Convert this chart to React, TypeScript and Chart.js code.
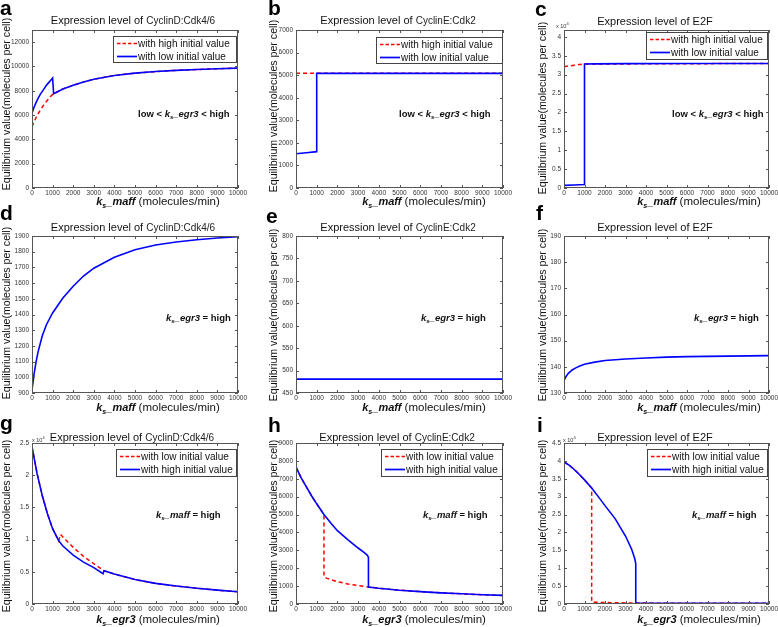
import React, { useEffect, useRef } from 'react';
import { Chart, registerables } from 'chart.js';
Chart.register(...registerables);

const W = 778;
const H = 627;
const FONT = '"Liberation Sans", Arial, sans-serif';
const BLUE = '#0000ff';
const RED = '#ff0000';

const X_TICKS = [0, 1000, 2000, 3000, 4000, 5000, 6000, 7000, 8000, 9000, 10000];

// ---- panel a ----
const A_Y_TICKS = [0, 2000, 4000, 6000, 8000, 10000, 12000];
const A_HIGH_X = [0, 100, 200, 300, 400, 500, 600, 700, 800, 900, 1000, 1500, 2000, 2500, 3000, 4000, 5000, 6000, 7000, 8000, 9000, 10000];
const A_HIGH_Y = [5050, 5450, 5800, 6120, 6400, 6660, 6900, 7120, 7330, 7520, 7700, 8150, 8450, 8720, 8950, 9250, 9450, 9580, 9680, 9750, 9810, 9860];
const A_LOW_X = [0, 100, 200, 300, 400, 500, 600, 700, 800, 900, 1000, 1050, 1500, 2000, 2500, 3000, 4000, 5000, 6000, 7000, 8000, 9000, 10000];
const A_LOW_Y = [6150, 6650, 7050, 7400, 7700, 7950, 8200, 8450, 8650, 8850, 9050, 7750, 8150, 8450, 8720, 8950, 9250, 9450, 9580, 9680, 9750, 9810, 9860];

// ---- panel b ----
const B_Y_TICKS = [0, 1000, 2000, 3000, 4000, 5000, 6000, 7000];
const B_HIGH_X = [0, 1000, 10000];
const B_HIGH_Y = [5080, 5080, 5080];
const B_LOW_X = [0, 500, 1000, 1000, 10000];
const B_LOW_Y = [1520, 1565, 1610, 5080, 5080];

// ---- panel c ----
const C_Y_TICKS = [0, 5000, 10000, 15000, 20000, 25000, 30000, 35000, 40000];
const C_HIGH_X = [0, 500, 1000, 10000];
const C_HIGH_Y = [32100, 32500, 32800, 32950];
const C_LOW_X = [0, 500, 1000, 1000, 1500, 3000, 6000, 10000];
const C_LOW_Y = [700, 800, 900, 32800, 32850, 32900, 32950, 32950];

// ---- panel d ----
const D_Y_TICKS = [900, 1000, 1100, 1200, 1300, 1400, 1500, 1600, 1700, 1800, 1900];
const D_X = [0, 100, 200, 300, 500, 700, 1000, 1500, 2000, 2500, 3000, 4000, 5000, 6000, 7000, 8000, 9000, 10000];
const D_Y = [920, 1020, 1100, 1165, 1265, 1335, 1410, 1505, 1580, 1645, 1695, 1765, 1812, 1843, 1862, 1876, 1887, 1896];

// ---- panel e ----
const E_Y_TICKS = [450, 500, 550, 600, 650, 700, 750, 800];
const E_X = [0, 2000, 10000];
const E_Y = [481, 481, 481];

// ---- panel f ----
const F_Y_TICKS = [130, 140, 150, 160, 170, 180, 190];
const F_X = [0, 100, 200, 400, 600, 800, 1000, 1500, 2000, 3000, 4000, 5000, 6000, 7000, 8000, 9000, 10000];
const F_Y = [134.8, 136.3, 137.4, 138.8, 139.7, 140.4, 141.0, 141.8, 142.4, 143.0, 143.4, 143.7, 143.9, 144.0, 144.1, 144.2, 144.3];

// ---- panel g ----
const G_Y_TICKS = [0, 5000, 10000, 15000, 20000, 25000];
const G_HIGH_X = [0, 250, 500, 750, 1000, 1300, 1500, 2000, 2500, 3000, 3450, 3500, 4000, 5000, 6000, 7000, 8000, 9000, 10000];
const G_HIGH_Y = [24400, 20200, 16800, 14000, 11700, 9800, 9000, 7600, 6500, 5650, 4700, 5150, 4650, 3800, 3200, 2800, 2450, 2150, 1900];
const G_LOW_X = [0, 250, 500, 750, 1000, 1300, 1380, 1500, 2000, 2500, 3000, 3500, 4000, 5000, 6000, 7000, 8000, 9000, 10000];
const G_LOW_Y = [24400, 20200, 16800, 14000, 11700, 9800, 10800, 10400, 8800, 7400, 6250, 5150, 4650, 3800, 3200, 2800, 2450, 2150, 1900];

// ---- panel h ----
const H_Y_TICKS = [0, 1000, 2000, 3000, 4000, 5000, 6000, 7000, 8000, 9000];
const H_HIGH_X = [0, 250, 500, 750, 1000, 1350, 1700, 2000, 2500, 3000, 3300, 3450, 3500, 3500, 4000, 5000, 6000, 7000, 8000, 9000, 10000];
const H_HIGH_Y = [7650, 7050, 6550, 6050, 5600, 5000, 4500, 4100, 3600, 3130, 2870, 2720, 2600, 950, 880, 770, 690, 620, 570, 520, 480];
const H_LOW_X = [0, 250, 500, 750, 1000, 1350, 1350, 1500, 2000, 2500, 3000, 3500, 4000, 5000, 6000, 7000, 8000, 9000, 10000];
const H_LOW_Y = [7650, 7050, 6550, 6050, 5600, 5000, 1530, 1430, 1250, 1120, 1030, 950, 880, 770, 690, 620, 570, 520, 480];

// ---- panel i ----
const I_Y_TICKS = [0, 5000, 10000, 15000, 20000, 25000, 30000, 35000, 40000, 45000];
const I_HIGH_X = [0, 250, 500, 750, 1000, 1350, 1700, 2000, 2500, 3000, 3300, 3450, 3500, 3500, 10000];
const I_HIGH_Y = [39700, 38800, 37600, 36200, 34700, 32400, 29800, 27500, 23800, 19000, 15300, 12700, 11300, 200, 200];
const I_LOW_X = [0, 250, 500, 750, 1000, 1350, 1350, 1500, 2000, 3000, 3500, 10000];
const I_LOW_Y = [39700, 38800, 37600, 36200, 34700, 32400, 600, 500, 400, 300, 250, 200];

const Y_TITLE = 'Equilibrium value(molecules per cell)';

type Series = { x: number[]; y: number[]; color: string; dash?: number[] };
type Panel = {
  letter: string; letterX: number; letterY: number;
  rect: [number, number, number, number];
  yMin: number; yMax: number; yTicks: number[]; yDiv: number;
  species: string; titleX: number; titleY: number;
  xVar: string; xLabelX: number; xLabelY: number;
  yLabelX: number; yLabelY: number;
  note: 'mid' | 'egr3' | 'maff'; noteX: number; noteY: number;
  legend?: [string, string]; legendBox?: [number, number, number, number];
  mult?: [number, number];
  series: Series[];
};

const HI = 'with high initial value';
const LO = 'with low initial value';

const PANELS: Panel[] = [
  {
    letter: 'a', letterX: 0, letterY: 15, rect: [32, 30, 238, 188],
    yMin: 0, yMax: 13000, yTicks: A_Y_TICKS, yDiv: 1,
    species: 'CyclinD:Cdk4/6', titleX: 133, titleY: 24,
    xVar: 'maff', xLabelX: 158, xLabelY: 205, yLabelX: 7, yLabelY: 104,
    note: 'mid', noteX: 138, noteY: 117,
    legend: [HI, LO], legendBox: [113, 36, 237, 63],
    series: [
      { x: A_LOW_X, y: A_LOW_Y, color: BLUE },
      { x: A_HIGH_X, y: A_HIGH_Y, color: RED, dash: [4, 3] },
    ],
  },
  {
    letter: 'b', letterX: 268, letterY: 15, rect: [296, 30, 503, 188],
    yMin: 0, yMax: 7000, yTicks: B_Y_TICKS, yDiv: 1,
    species: 'CyclinE:Cdk2', titleX: 398, titleY: 24,
    xVar: 'maff', xLabelX: 424, xLabelY: 205, yLabelX: 274, yLabelY: 106,
    note: 'mid', noteX: 399, noteY: 117,
    legend: [HI, LO], legendBox: [376, 37, 503, 64],
    series: [
      { x: B_LOW_X, y: B_LOW_Y, color: BLUE },
      { x: B_HIGH_X, y: B_HIGH_Y, color: RED, dash: [4, 3] },
    ],
  },
  {
    letter: 'c', letterX: 535, letterY: 16, rect: [564, 30, 769, 188],
    yMin: 0, yMax: 41800, yTicks: C_Y_TICKS, yDiv: 10000,
    species: '', titleX: 655, titleY: 25,
    xVar: 'maff', xLabelX: 699, xLabelY: 205, yLabelX: 543, yLabelY: 108,
    note: 'mid', noteX: 672, noteY: 117,
    legend: [HI, LO], legendBox: [646, 32, 768, 60], mult: [556, 28],
    series: [
      { x: C_LOW_X, y: C_LOW_Y, color: BLUE },
      { x: C_HIGH_X, y: C_HIGH_Y, color: RED, dash: [4, 3] },
    ],
  },
  {
    letter: 'd', letterX: 0, letterY: 220, rect: [32, 236, 238, 393],
    yMin: 900, yMax: 1900, yTicks: D_Y_TICKS, yDiv: 1,
    species: 'CyclinD:Cdk4/6', titleX: 133, titleY: 231,
    xVar: 'maff', xLabelX: 158, xLabelY: 411, yLabelX: 7, yLabelY: 313,
    note: 'egr3', noteX: 166, noteY: 321,
    series: [{ x: D_X, y: D_Y, color: BLUE }],
  },
  {
    letter: 'e', letterX: 266, letterY: 223, rect: [296, 236, 503, 393],
    yMin: 450, yMax: 800, yTicks: E_Y_TICKS, yDiv: 1,
    species: 'CyclinE:Cdk2', titleX: 398, titleY: 231,
    xVar: 'maff', xLabelX: 424, xLabelY: 411, yLabelX: 274, yLabelY: 315,
    note: 'egr3', noteX: 421, noteY: 321,
    series: [{ x: E_X, y: E_Y, color: BLUE }],
  },
  {
    letter: 'f', letterX: 536, letterY: 220, rect: [564, 236, 769, 393],
    yMin: 130, yMax: 190, yTicks: F_Y_TICKS, yDiv: 1,
    species: '', titleX: 655, titleY: 231,
    xVar: 'maff', xLabelX: 699, xLabelY: 411, yLabelX: 543, yLabelY: 315,
    note: 'egr3', noteX: 694, noteY: 321,
    series: [{ x: F_X, y: F_Y, color: BLUE }],
  },
  {
    letter: 'g', letterX: 0, letterY: 430, rect: [32, 443, 238, 604],
    yMin: 0, yMax: 25000, yTicks: G_Y_TICKS, yDiv: 10000,
    species: 'CyclinD:Cdk4/6', titleX: 132, titleY: 441,
    xVar: 'egr3', xLabelX: 158, xLabelY: 623, yLabelX: 7, yLabelY: 526,
    note: 'maff', noteX: 156, noteY: 518,
    legend: [LO, HI], legendBox: [116, 449, 237, 477], mult: [32, 442],
    series: [
      { x: G_HIGH_X, y: G_HIGH_Y, color: BLUE },
      { x: G_LOW_X, y: G_LOW_Y, color: RED, dash: [4, 3] },
    ],
  },
  {
    letter: 'h', letterX: 268, letterY: 432, rect: [296, 443, 503, 604],
    yMin: 0, yMax: 9000, yTicks: H_Y_TICKS, yDiv: 1,
    species: 'CyclinE:Cdk2', titleX: 397, titleY: 441,
    xVar: 'egr3', xLabelX: 424, xLabelY: 623, yLabelX: 274, yLabelY: 526,
    note: 'maff', noteX: 423, noteY: 518,
    legend: [LO, HI], legendBox: [381, 449, 503, 477],
    series: [
      { x: H_HIGH_X, y: H_HIGH_Y, color: BLUE },
      { x: H_LOW_X, y: H_LOW_Y, color: RED, dash: [4, 3] },
    ],
  },
  {
    letter: 'i', letterX: 537, letterY: 432, rect: [564, 443, 769, 604],
    yMin: 0, yMax: 45000, yTicks: I_Y_TICKS, yDiv: 10000,
    species: '', titleX: 655, titleY: 441,
    xVar: 'egr3', xLabelX: 699, xLabelY: 623, yLabelX: 543, yLabelY: 526,
    note: 'maff', noteX: 692, noteY: 518,
    legend: [LO, HI], legendBox: [647, 449, 768, 477], mult: [563, 442],
    series: [
      { x: I_HIGH_X, y: I_HIGH_Y, color: BLUE },
      { x: I_LOW_X, y: I_LOW_Y, color: RED, dash: [4, 3] },
    ],
  },
];

type Seg = { t: string; f: string; dy?: number; c?: string };

function drawRich(ctx: CanvasRenderingContext2D, segs: Seg[], x: number, y: number, align: 'left' | 'center') {
  let total = 0;
  for (const s of segs) { ctx.font = s.f; total += ctx.measureText(s.t).width; }
  let cx = align === 'center' ? x - total / 2 : x;
  ctx.textAlign = 'left';
  ctx.textBaseline = 'alphabetic';
  for (const s of segs) {
    ctx.font = s.f;
    ctx.fillStyle = s.c || '#111';
    ctx.fillText(s.t, cx, y + (s.dy || 0));
    cx += ctx.measureText(s.t).width;
  }
}

function fmt(v: number, div: number) {
  const r = v / div;
  return String(Math.round(r * 100) / 100);
}

function makeDeco(p: Panel) {
  return {
    id: 'deco' + p.letter,
    afterDraw(chart: any) {
      const ctx: CanvasRenderingContext2D = chart.ctx;
      const xs = chart.scales.x;
      const ys = chart.scales.y;
      const { left, right, top, bottom } = chart.chartArea;
      ctx.save();
      // frame
      ctx.strokeStyle = '#555';
      ctx.lineWidth = 1;
      ctx.setLineDash([]);
      ctx.strokeRect(left + 0.5, top + 0.5, right - left - 1, bottom - top - 1);
      // tick marks
      ctx.beginPath();
      for (const v of X_TICKS) {
        const px = Math.round(xs.getPixelForValue(v)) + 0.5;
        ctx.moveTo(px, bottom); ctx.lineTo(px, bottom - 3);
        ctx.moveTo(px, top); ctx.lineTo(px, top + 3);
      }
      for (const v of p.yTicks) {
        const py = Math.round(ys.getPixelForValue(v)) + 0.5;
        ctx.moveTo(left, py); ctx.lineTo(left + 3, py);
        ctx.moveTo(right, py); ctx.lineTo(right - 3, py);
      }
      ctx.stroke();
      // tick labels
      ctx.fillStyle = '#333';
      ctx.font = `6.5px ${FONT}`;
      ctx.textAlign = 'center';
      ctx.textBaseline = 'middle';
      for (const v of X_TICKS) {
        ctx.fillText(String(v), xs.getPixelForValue(v), bottom + 5.5);
      }
      ctx.textAlign = 'right';
      for (const v of p.yTicks) {
        ctx.fillText(fmt(v, p.yDiv), left - 3, ys.getPixelForValue(v));
      }
      // multiplier
      if (p.mult) {
        drawRich(ctx, [
          { t: 'x 10', f: `5.5px ${FONT}`, c: '#333' },
          { t: '4', f: `4px ${FONT}`, dy: -3, c: '#333' },
        ], p.mult[0], p.mult[1], 'left');
      }
      // panel letter
      ctx.fillStyle = '#000';
      ctx.font = `bold 21px ${FONT}`;
      ctx.textAlign = 'left';
      ctx.textBaseline = 'alphabetic';
      ctx.fillText(p.letter, p.letterX, p.letterY);
      // title
      const titleSegs: Seg[] = p.species
        ? [{ t: 'Expression level of ', f: `11px ${FONT}` }, { t: p.species, f: `10px ${FONT}`, c: '#222' }]
        : [{ t: 'Expression level of E2F', f: `11px ${FONT}` }];
      drawRich(ctx, titleSegs, p.titleX, p.titleY, 'center');
      // x label
      drawRich(ctx, [
        { t: 'k', f: `italic bold 11px ${FONT}` },
        { t: 's', f: `italic bold 7px ${FONT}`, dy: 2.5 },
        { t: '_' + p.xVar, f: `italic bold 11px ${FONT}` },
        { t: ' (molecules/min)', f: `11.5px ${FONT}` },
      ], p.xLabelX, p.xLabelY, 'center');
      // y label
      ctx.save();
      ctx.translate(p.yLabelX, p.yLabelY);
      ctx.rotate(-Math.PI / 2);
      ctx.font = `10.6px ${FONT}`;
      ctx.fillStyle = '#111';
      ctx.textAlign = 'center';
      ctx.textBaseline = 'middle';
      ctx.fillText(Y_TITLE, 0, 0);
      ctx.restore();
      // note
      const nb = `bold 9.5px ${FONT}`;
      const ni = `italic bold 9.5px ${FONT}`;
      const ns = `italic bold 6px ${FONT}`;
      let noteSegs: Seg[];
      if (p.note === 'mid') {
        noteSegs = [{ t: 'low < ', f: nb }, { t: 'k', f: ni }, { t: 's', f: ns, dy: 2 }, { t: '_egr3', f: ni }, { t: ' < high', f: nb }];
      } else if (p.note === 'egr3') {
        noteSegs = [{ t: 'k', f: ni }, { t: 's', f: ns, dy: 2 }, { t: '_egr3', f: ni }, { t: ' = high', f: nb }];
      } else {
        noteSegs = [{ t: 'k', f: ni }, { t: 's', f: ns, dy: 2 }, { t: '_maff', f: ni }, { t: ' = high', f: nb }];
      }
      drawRich(ctx, noteSegs, p.noteX, p.noteY, 'left');
      // legend
      if (p.legend && p.legendBox) {
        const [bx0, by0, bx1, by1] = p.legendBox;
        ctx.fillStyle = '#fff';
        ctx.fillRect(bx0, by0, bx1 - bx0, by1 - by0);
        ctx.strokeStyle = '#444';
        ctx.lineWidth = 1;
        ctx.strokeRect(bx0 + 0.5, by0 + 0.5, bx1 - bx0 - 1, by1 - by0 - 1);
        const rows = [by0 + 7.5, by0 + 20.5];
        ctx.strokeStyle = RED;
        ctx.lineWidth = 1.4;
        ctx.setLineDash([3.5, 2]);
        ctx.beginPath(); ctx.moveTo(bx0 + 4, rows[0]); ctx.lineTo(bx0 + 24, rows[0]); ctx.stroke();
        ctx.setLineDash([]);
        ctx.strokeStyle = BLUE;
        ctx.lineWidth = 1.7;
        ctx.beginPath(); ctx.moveTo(bx0 + 4, rows[1]); ctx.lineTo(bx0 + 24, rows[1]); ctx.stroke();
        ctx.fillStyle = '#111';
        ctx.font = `10px ${FONT}`;
        ctx.textAlign = 'left';
        ctx.textBaseline = 'middle';
        ctx.fillText(p.legend[0], bx0 + 25, rows[0] + 0.5);
        ctx.fillText(p.legend[1], bx0 + 25, rows[1] + 0.5);
      }
      ctx.restore();
    },
  };
}

function PanelChart({ p }: { p: Panel }) {
  const ref = useRef<HTMLCanvasElement | null>(null);
  useEffect(() => {
    if (!ref.current) return;
    const [L, T, R, B] = p.rect;
    const chart = new Chart(ref.current, {
      type: 'line',
      data: {
        datasets: p.series.map((s) => ({
          data: s.x.map((xv, i) => ({ x: xv, y: s.y[i] })),
          borderColor: s.color,
          borderWidth: s.dash ? 1.5 : 1.6,
          borderDash: s.dash || [],
          pointRadius: 0,
          fill: false,
          tension: 0,
        })),
      },
      options: {
        responsive: false,
        animation: false,
        devicePixelRatio: 1,
        events: [],
        layout: { padding: { left: L, top: T, right: W - R, bottom: H - B } },
        scales: {
          x: { type: 'linear', display: false, min: 0, max: 10000 },
          y: { type: 'linear', display: false, min: p.yMin, max: p.yMax },
        },
        plugins: {
          legend: { display: false },
          title: { display: false },
          tooltip: { enabled: false },
        },
      },
      plugins: [makeDeco(p)],
    } as any);
    return () => chart.destroy();
  }, [p]);
  return (
    <canvas
      ref={ref}
      width={W}
      height={H}
      style={{ position: 'absolute', left: 0, top: 0, width: W, height: H }}
    />
  );
}

export default function App() {
  return (
    <div style={{ position: 'fixed', left: 0, top: 0, width: W, height: H, background: '#fff', overflow: 'hidden' }}>
      {PANELS.map((p) => (
        <PanelChart key={p.letter} p={p} />
      ))}
    </div>
  );
}
